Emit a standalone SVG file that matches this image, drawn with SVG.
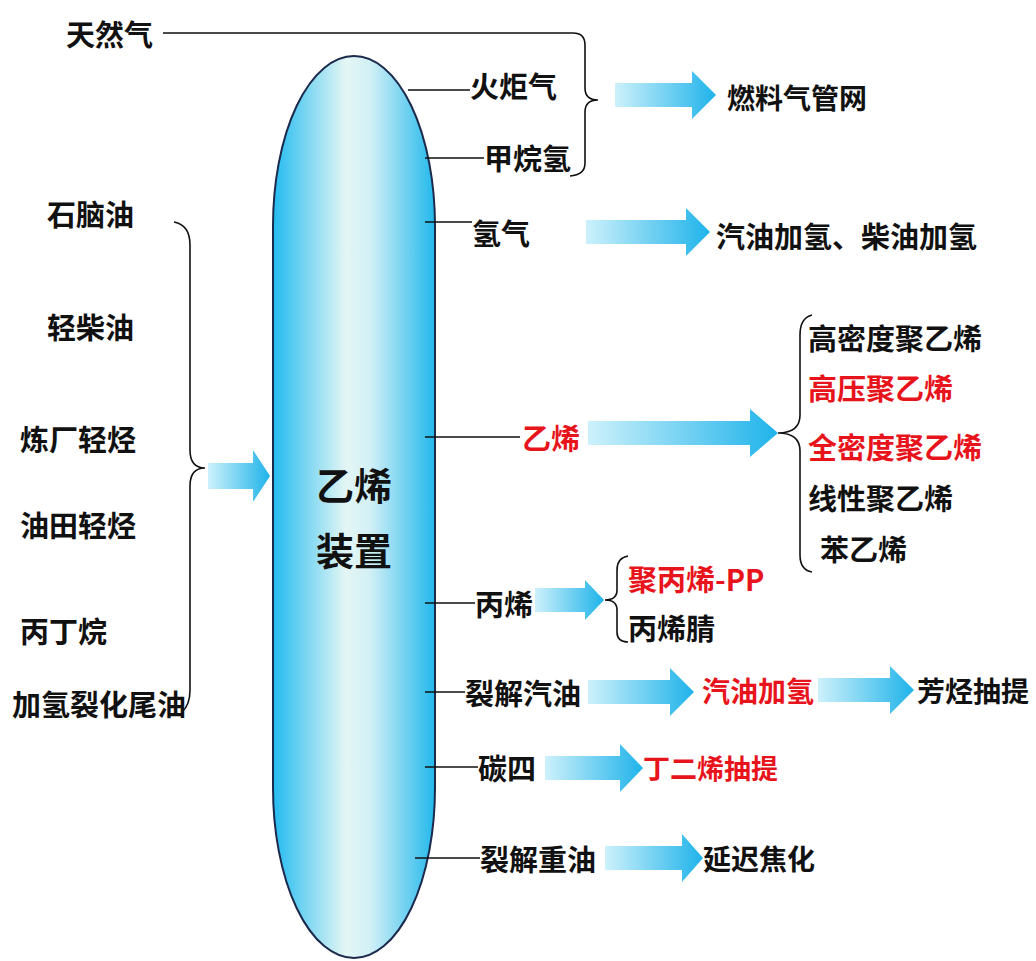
<svg xmlns="http://www.w3.org/2000/svg" width="1036" height="961" viewBox="0 0 1036 961">
<style>
text{font-family:"Noto Sans CJK SC","Liberation Sans",sans-serif;font-weight:bold;font-size:29px;fill:#111;dominant-baseline:central}
.r{fill:#e8141c}
.ln{fill:none;stroke:#111;stroke-width:1.6}
.ar{fill:url(#ag)}
</style>
<defs>
<linearGradient id="vg" x1="0" y1="0" x2="1" y2="0">
<stop offset="0" stop-color="#22bbf0"/>
<stop offset="0.45" stop-color="#e4f6f4"/>
<stop offset="0.6" stop-color="#d2f0f6"/>
<stop offset="1" stop-color="#22b8ec"/>
</linearGradient>
<linearGradient id="ag" x1="0" y1="0" x2="1" y2="0">
<stop offset="0" stop-color="#cdf1fb"/>
<stop offset="1" stop-color="#1fb3ea"/>
</linearGradient>
</defs>
<rect width="1036" height="961" fill="#fff"/>
<g id="vessel">
<rect x="273" y="56" width="162" height="902" rx="81" ry="170" fill="url(#vg)" stroke="#1c2a4c" stroke-width="2"/>
<text x="354" y="483" text-anchor="middle" style="font-size:38px">乙烯</text>
<text x="354" y="548" text-anchor="middle" style="font-size:38px">装置</text>
</g>
<g id="connectors">
<path class="ln" d="M163,33 H573 Q585,33 585,45 V88 Q585,100 598,100 Q585,100 585,112 V163 Q585,175 570,176"/>
<path class="ln" d="M408,90 H470"/>
<path class="ln" d="M425,158 H484"/>
<path class="ln" d="M425,222 H472"/>
<path class="ln" d="M425,437 H520"/>
<path class="ln" d="M425,603 H475"/>
<path class="ln" d="M425,692 H465"/>
<path class="ln" d="M425,767 H478"/>
<path class="ln" d="M415,858 H480"/>
<path class="ln" d="M174,222 Q190,225 190,245 V450 Q190,468 205,468 Q190,468 190,486 V690 Q190,705 182,712"/>
<path class="ln" d="M812,315 Q800,318 800,335 V415 Q800,433 778,433 Q800,433 800,451 V555 Q800,570 812,572"/>
<path class="ln" d="M628,556 Q617,558 617,570 V590 Q617,600 605,600 Q617,600 617,610 V632 Q617,642 628,642"/>
<polygon class="ar" points="615,83 692,83 692,71 716,95 692,119 692,107 615,107"/>
<polygon class="ar" points="586,220 686,220 686,208 710,232 686,256 686,244 586,244"/>
<polygon class="ar" points="588,421 750,421 750,409 778,433 750,457 750,445 588,445"/>
<polygon class="ar" points="208,463 253,463 253,450 270,476 253,502 253,489 208,489"/>
<polygon class="ar" points="535,588 585,588 585,580 604,600 585,620 585,612 535,612"/>
<polygon class="ar" points="588,680 670,680 670,668 694,692 670,716 670,704 588,704"/>
<polygon class="ar" points="818,678 890,678 890,666 914,690 890,714 890,702 818,702"/>
<polygon class="ar" points="545,756 620,756 620,744 643,768 620,792 620,780 545,780"/>
<polygon class="ar" points="605,846 682,846 682,834 703,858 682,882 682,870 605,870"/>
</g>
<g id="inputs">
<text x="66" y="33">天然气</text>
<text x="47" y="213">石脑油</text>
<text x="47" y="326">轻柴油</text>
<text x="20" y="438">炼厂轻烃</text>
<text x="20" y="524">油田轻烃</text>
<text x="20" y="630">丙丁烷</text>
<text x="12" y="703">加氢裂化尾油</text>
</g>
<g id="streams">
<text x="470" y="85">火炬气</text>
<text x="484" y="157">甲烷氢</text>
<text x="472" y="232">氢气</text>
<text x="522" y="437" class="r">乙烯</text>
<text x="475" y="603">丙烯</text>
<text x="465" y="692">裂解汽油</text>
<text x="478" y="767">碳四</text>
<text x="480" y="858">裂解重油</text>
</g>
<g id="products">
<text x="727" y="97" style="font-size:28px">燃料气管网</text>
<text x="716" y="235">汽油加氢、柴油加氢</text>
<text x="808" y="337">高密度聚乙烯</text>
<text x="808" y="387" class="r">高压聚乙烯</text>
<text x="808" y="446" class="r">全密度聚乙烯</text>
<text x="808" y="497">线性聚乙烯</text>
<text x="820" y="548">苯乙烯</text>
<text x="628" y="578" class="r">聚丙烯-PP</text>
<text x="628" y="627">丙烯腈</text>
<text x="702" y="690" class="r" style="font-size:28px">汽油加氢</text>
<text x="917" y="690" style="font-size:28px">芳烃抽提</text>
<text x="643" y="767" class="r" style="font-size:27px">丁二烯抽提</text>
<text x="703" y="858" style="font-size:28px">延迟焦化</text>
</g>
</svg>
